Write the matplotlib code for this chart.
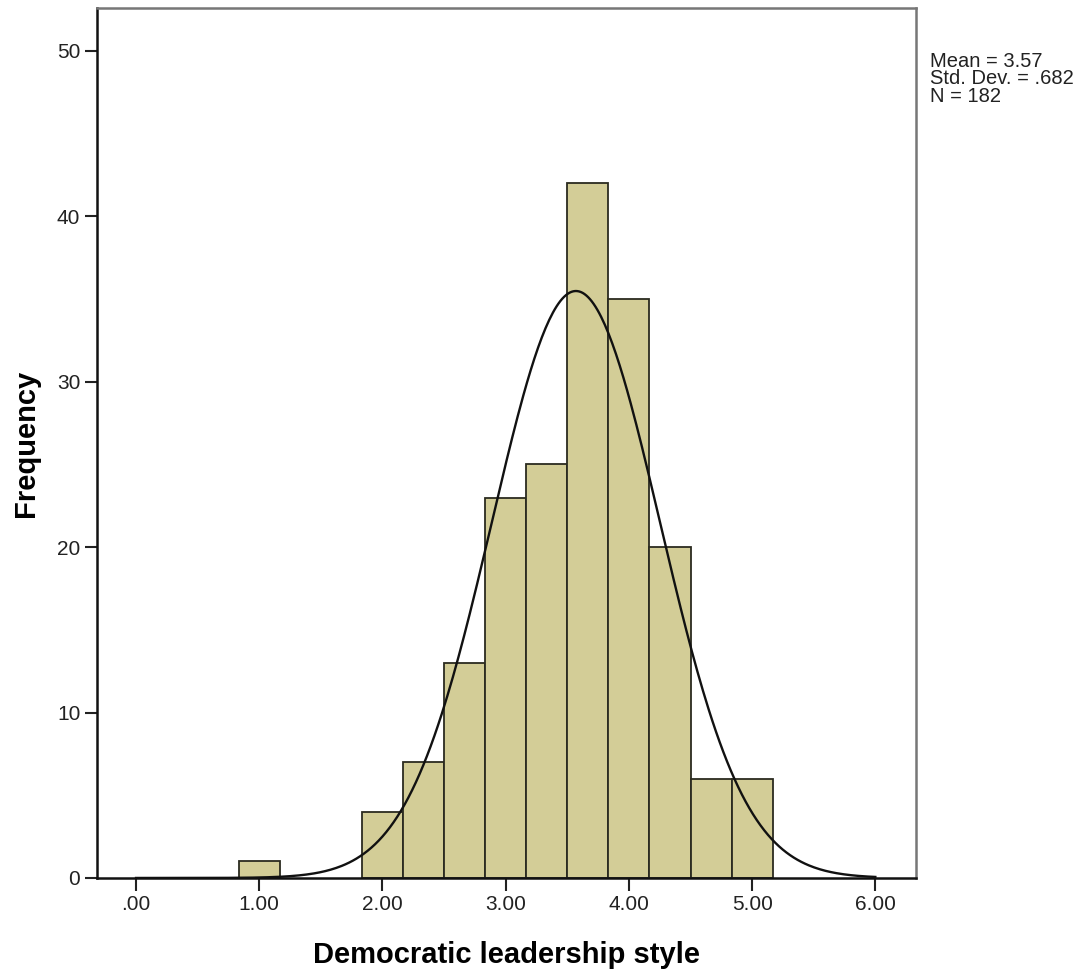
import numpy as np
import matplotlib
matplotlib.use("Agg")
import matplotlib.pyplot as plt

# histogram bins (centres) and counts, bin width 1/3
bin_centres = [1.0, 2.0, 2.3333, 2.6667, 3.0, 3.3333, 3.6667, 4.0, 4.3333, 4.6667, 5.0]
counts = [1, 4, 7, 13, 23, 25, 42, 35, 20, 6, 6]
bin_width = 1.0 / 3.0

mean = 3.57
std = 0.682
n = 182

x_ticks = [0, 1, 2, 3, 4, 5, 6]
x_labels = [".00", "1.00", "2.00", "3.00", "4.00", "5.00", "6.00"]
y_ticks = [0, 10, 20, 30, 40, 50]

plt.rcParams['font.family'] = ['Liberation Sans', 'DejaVu Sans']

fig = plt.figure(figsize=(10.91, 9.74), dpi=100)
ax = fig.add_axes([0.0889, 0.0986, 0.7507, 0.8932])

ax.bar(bin_centres, counts, width=bin_width, color='#d3cd97', edgecolor='#2b2b20', linewidth=1.3, zorder=2)

# normal curve from the summary stats
xs = np.linspace(0, 6, 400)
ys = n * bin_width / (std * np.sqrt(2 * np.pi)) * np.exp(-0.5 * ((xs - mean) / std) ** 2)
ax.plot(xs, ys, color='#111111', linewidth=1.7, zorder=3)

ax.set_xlim(-0.317, 6.33)
ax.set_ylim(0, 52.6)
ax.set_xticks(x_ticks)
ax.set_xticklabels(x_labels)
ax.set_yticks(y_ticks)
ax.tick_params(direction='out', length=9, width=1.5, labelsize=15, colors='#222222', pad=3)

for side in ['left', 'bottom']:
    ax.spines[side].set_color('#111111')
    ax.spines[side].set_linewidth(1.8)
for side in ['top', 'right']:
    ax.spines[side].set_color('#777777')
    ax.spines[side].set_linewidth(1.8)

ax.set_xlabel("Democratic leadership style", fontsize=21, fontweight='bold', labelpad=20)
ax.set_ylabel("Frequency", fontsize=21, fontweight='bold', labelpad=12)

fig.text(0.852, 0.947, "Mean = 3.57\nStd. Dev. = .682\nN = 182", fontsize=14.5, va='top', ha='left',
         linespacing=0.92, color='#222222')

fig.savefig("out.png", dpi=100)
